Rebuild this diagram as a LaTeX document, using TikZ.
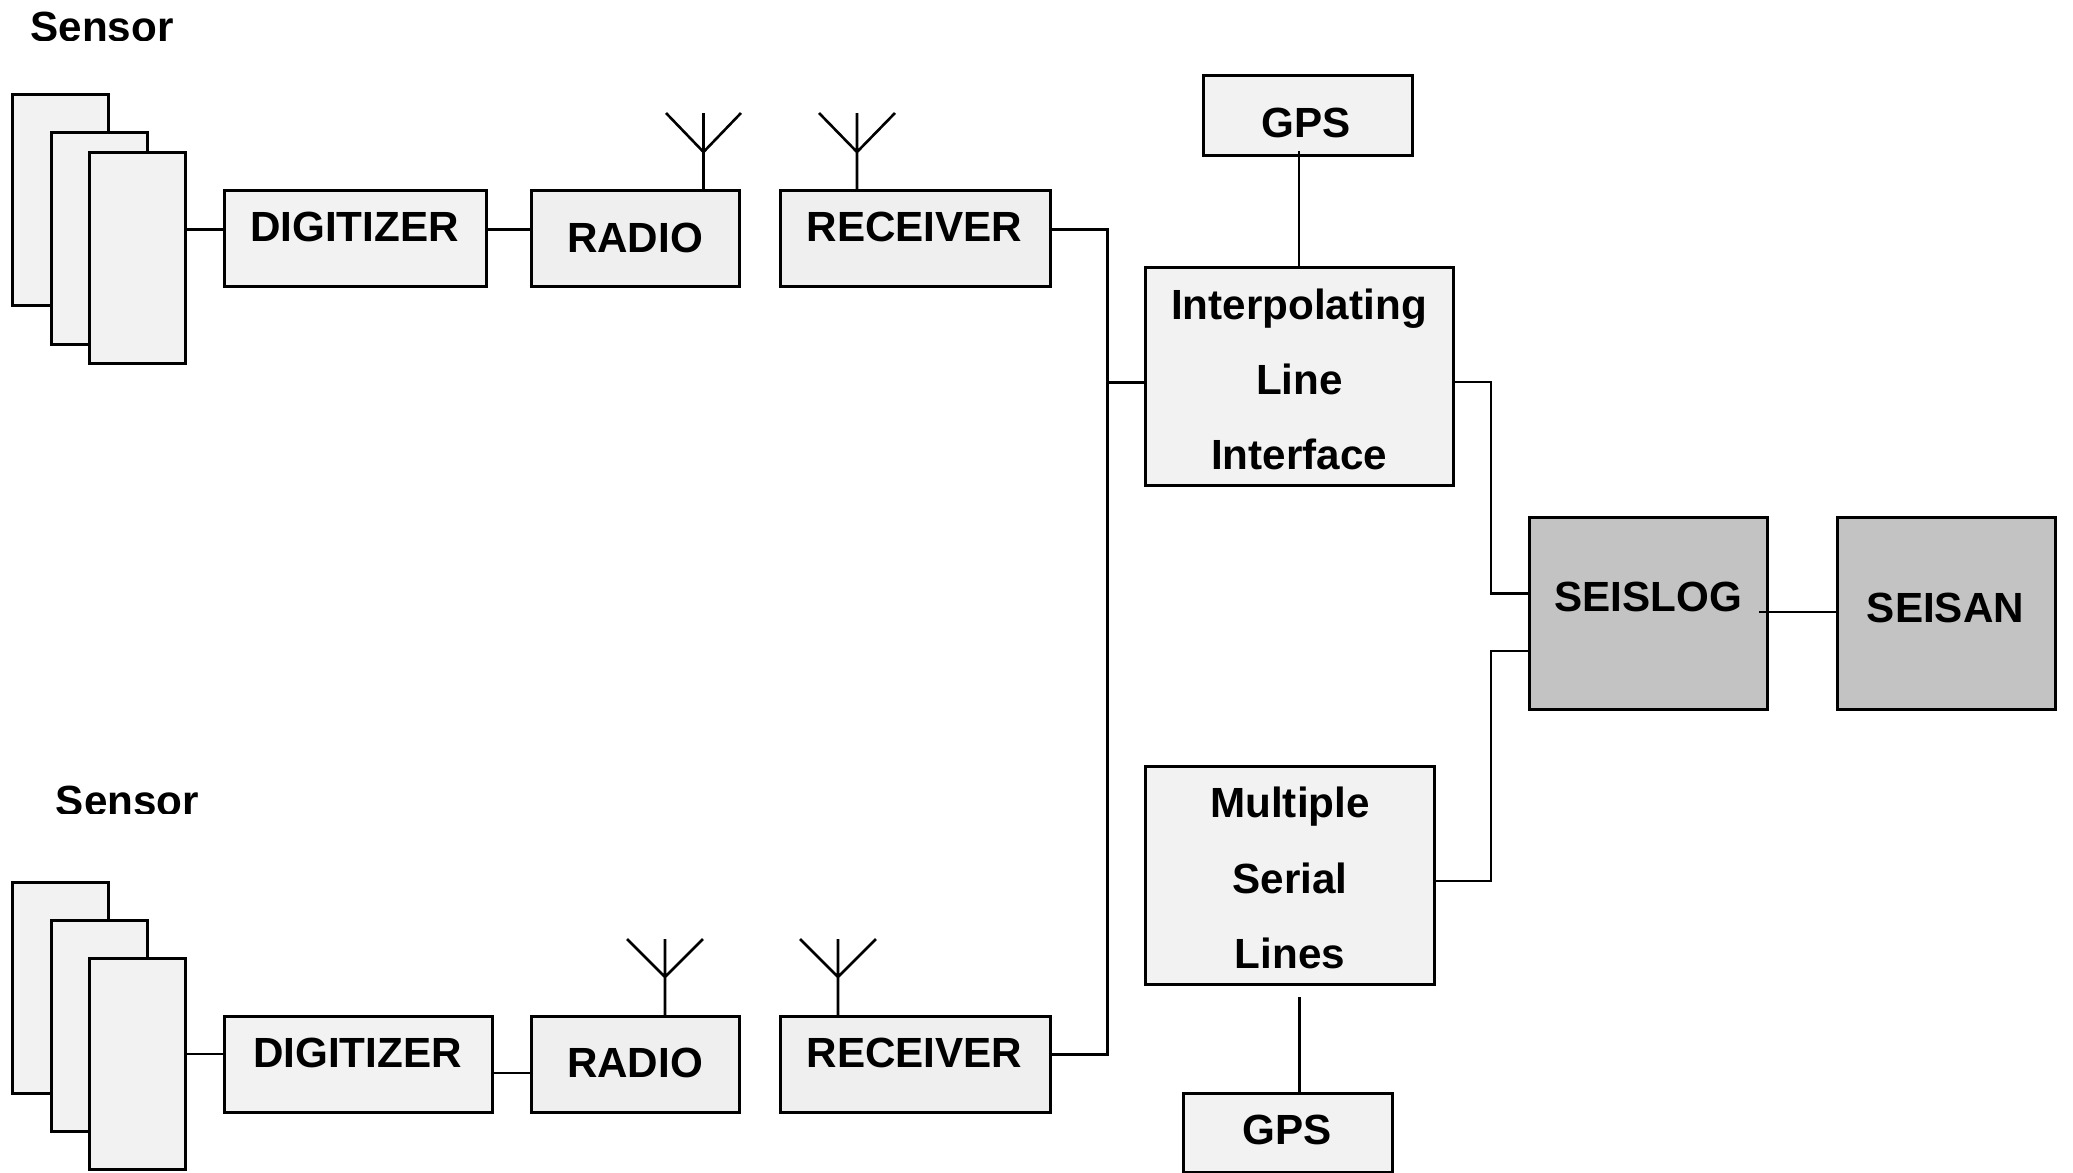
\documentclass[tikz,border=0pt]{standalone}
\usepackage{fontspec}
\setmainfont{Liberation Sans}
\definecolor{lightbox}{HTML}{F2F2F2}
\definecolor{radiobox}{HTML}{EFEFEF}
\definecolor{darkbox}{HTML}{C3C3C3}
\newcommand{\bx}[6]{\node[#6,minimum width={(#4-#2)*0.5pt},minimum height={(#5-#3)*0.5pt}] (#1) at ({(#2+#4)/2},{(#3+#5)/2}) {};}
\newcommand{\tx}[4]{\node[lbl] (#1) at (#2,#3) {#4};}
\tikzset{
  basebox/.style={rectangle,draw=black,inner sep=0pt,outer sep=0pt,line width=1.5pt},
  lightnode/.style={basebox,fill=lightbox},
  radionode/.style={basebox,fill=radiobox},
  darknode/.style={basebox,fill=darkbox},
  lbl/.style={anchor=base,inner sep=0pt,font=\fontsize{21.1}{25}\selectfont\bfseries},
  wire/.style={line width=1.5pt,line join=miter},
  thinwire/.style={line width=1.1pt,line join=miter},
  aerial/.style={line width=1.3pt,line join=miter}
}
\begin{document}
\begin{tikzpicture}[x=0.5pt,y=-0.5pt]
\useasboundingbox (0,0) rectangle (2073,1173);
% sensor captions, cut off at the baseline as in the picture
\begin{scope}
\clip (0,0) rectangle (400,40);
\tx{st}{102}{41.5}{Sensor}
\end{scope}
\begin{scope}
\clip (0,770) rectangle (400,813);
\tx{sb}{127.5}{815}{Sensor}
\end{scope}
% top sensors
\bx{a1}{12}{94}{108}{305}{lightnode}
\bx{a2}{51}{132}{147}{344}{lightnode}
\bx{a3}{89}{152}{185}{363}{lightnode}
% bottom sensors
\bx{b1}{12}{882}{108}{1093}{lightnode}
\bx{b2}{51}{920}{147}{1131}{lightnode}
\bx{b3}{89}{958}{185}{1169}{lightnode}
% top chain
\bx{dt}{224}{190}{486}{286}{lightnode}
\bx{rt}{531}{190}{739}{286}{radionode}
\bx{ct}{780}{190}{1050}{286}{radionode}
% bottom chain
\bx{db}{224}{1016}{492}{1112}{lightnode}
\bx{rb}{531}{1016}{739}{1112}{radionode}
\bx{cb}{780}{1016}{1050}{1112}{radionode}
% right side
\bx{gt}{1203}{75}{1412}{155}{lightnode}
\bx{il}{1145}{267}{1453}{485}{lightnode}
\bx{ms}{1145}{766}{1434}{984}{lightnode}
\bx{gb}{1183}{1093}{1392}{1172}{lightnode}
\bx{sl}{1529}{517}{1767}{709}{darknode}
\bx{sn}{1837}{517}{2055}{709}{darknode}
% labels
\tx{t1}{354.5}{241.5}{DIGITIZER}
\tx{t2}{635}{252.5}{RADIO}
\tx{t3}{914.5}{241.5}{RECEIVER}
\tx{t4}{357.5}{1067.5}{DIGITIZER}
\tx{t5}{635}{1077.5}{RADIO}
\tx{t6}{914.5}{1067.5}{RECEIVER}
\tx{t7}{1306.5}{137}{GPS}
\tx{t8}{1299}{319}{Interpolating}
\tx{t9}{1299.5}{394.5}{Line}
\tx{t10}{1299}{469.5}{Interface}
\tx{t11}{1290}{817.5}{Multiple}
\tx{t12}{1290}{893.5}{Serial}
\tx{t13}{1290}{968.5}{Lines}
\tx{t14}{1287.5}{1144.5}{GPS}
\tx{t15}{1648}{611.5}{SEISLOG}
\tx{t16}{1945.5}{622.5}{SEISAN}
% aerial anchors
\coordinate (art) at (703.5,152);
\coordinate (act) at (857,152);
\coordinate (arb) at (665,977);
\coordinate (acb) at (838,977);
\coordinate (jt) at (1107,229);
\coordinate (jb) at (1107,1054);
\coordinate (jr) at (1491,593.5);
\coordinate (jm) at (1491,651);
\coordinate (ji) at (1107,382);
\coordinate (gi) at (1299,151);
\coordinate (mg) at (1299,997);
% connectors
\draw[wire] (a3.east|-0,229) -- (dt.west|-0,229);
\draw[wire] (dt.east|-0,229) -- (rt.west|-0,229);
\draw[thinwire] (b3.east|-0,1054) -- (db.west|-0,1054);
\draw[thinwire] (db.east|-0,1073) -- (rb.west|-0,1073);
\draw[wire] (ct.east|-jt) -- (jt) -- (jb) -- (cb.east|-jb);
\draw[wire] (ji) -- (il.west|-ji);
\draw[thinwire] (il.east|-ji) -- (jr|-ji) -- (jr) -- (sl.west|-jr);
\draw[thinwire] (sl.west|-jm) -- (jm) -- (jr|-0,881) -- (ms.east|-0,881);
\draw[thinwire] (gi) -- (il.north);
\draw[wire] (mg) -- (mg|-0,1095);
\draw[thinwire] (1759,612) -- (sn.west|-0,612);
% aerials
\draw[aerial] (rt.north-|art) -- (art) (703.5,113) -- (art) (666,113) -- (art) -- (741,113);
\draw[aerial] (ct.north-|act) -- (act) (857,113) -- (act) (819,113) -- (act) -- (895,113);
\draw[aerial] (rb.north-|arb) -- (arb) (665,939) -- (arb) (627,939) -- (arb) -- (703,939);
\draw[aerial] (cb.north-|acb) -- (acb) (838,939) -- (acb) (800,939) -- (acb) -- (876,939);
\end{tikzpicture}
\end{document}
